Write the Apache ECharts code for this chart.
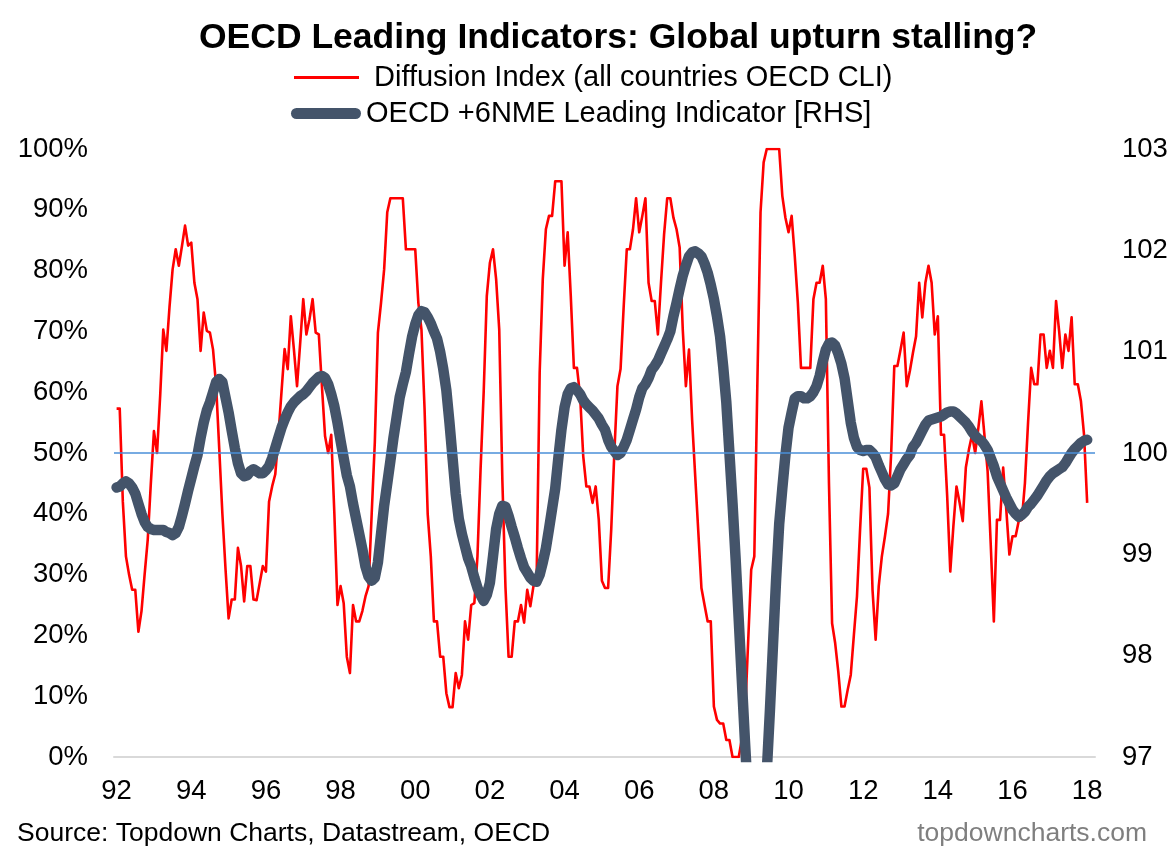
<!DOCTYPE html>
<html>
<head>
<meta charset="utf-8">
<script src="https://cdn.jsdelivr.net/npm/echarts@6/dist/echarts.min.js"></script>
<style>
html,body{margin:0;padding:0;background:#fff;}
#chart{width:1175px;height:861px;}
</style>
</head>
<body>
<div id="chart"></div>
<script>
// ---- Data (monthly, Jan 1992 .. Jan 2018) ----
const startYear = 1992;
const seriesNames = ['Diffusion Index (all countries OECD CLI)', 'OECD +6NME Leading Indicator [RHS]'];
const xTickYears = [1992,1994,1996,1998,2000,2002,2004,2006,2008,2010,2012,2014,2016,2018];
const leftTicks = [0,10,20,30,40,50,60,70,80,90,100];
const rightTicks = [97,98,99,100,101,102,103];
const refLevel = 50;

// Diffusion Index (% of countries with rising CLI), monthly
const diffusion = [
  57.3, 57.3, 42, 33, 30, 27.5, 27.5, 20.6, 24, 30, 35.7, 45,          // 1992
  53.6, 50, 59.4, 70.3, 66.8, 74, 80.2, 83.5, 80.8, 84, 87.4, 84.1,     // 1993
  84.6, 78, 75.3, 66.8, 73.1, 70.1, 69.8, 67, 61, 50.6, 40, 31,         // 1994
  22.8, 25.9, 25.9, 34.4, 31.4, 25.6, 31.4, 31.4, 25.9, 25.8, 28.6, 31.4, // 1995
  30.5, 42, 44.5, 46.5, 52.8, 60, 67.1, 63.8, 72.5, 67, 61, 68,         // 1996
  75.3, 69.5, 72, 75.3, 69.8, 69.5, 61, 52.8, 50, 53, 40, 25,           // 1997
  28.1, 25.3, 16.5, 13.8, 25, 22.3, 22.3, 24, 26.4, 28.1, 40, 51.7,     // 1998
  69.8, 74.7, 80.2, 89.6, 91.9, 91.9, 91.9, 91.9, 91.9, 83.5, 83.5, 83.5, // 1999
  83.5, 74.7, 70.3, 57.2, 40, 33, 22.3, 22.3, 16.5, 16.5, 10.5, 8.2,    // 2000
  8.2, 13.8, 11.3, 13.5, 22.3, 19.3, 25, 25.3, 33, 47.3, 60, 75.8,      // 2001
  81.3, 83.5, 78.6, 70.3, 45.6, 28, 16.5, 16.5, 22.3, 22.3, 25, 22.1,   // 2002
  27.5, 24.8, 28.1, 28.6, 63.2, 78.6, 86.8, 89, 89, 94.7, 94.7, 94.7,   // 2003
  80.8, 86.3, 75.8, 64, 64, 59.4, 49.5, 44.5, 44.5, 41.8, 44.5, 39,     // 2004
  29, 27.8, 27.8, 37.4, 50, 61, 63.8, 74, 83.5, 83.5, 86.8, 91.9,       // 2005
  86.3, 89, 91.9, 78, 75, 75, 69.5, 78, 86, 91.9, 91.9, 88.7,           // 2006
  86.8, 83.8, 70.3, 61, 67, 55.5, 46.2, 37, 27.8, 25, 22.3, 22.3,       // 2007
  8.3, 6.1, 5.5, 5.5, 2.8, 2.8, 0, 0, 0, 3, 6.6, 18.7,                  // 2008
  30.8, 33, 62, 89.6, 97.8, 100, 100, 100, 100, 100, 92.3, 88.7,        // 2009
  86.3, 89, 82.4, 74.7, 64, 64, 64, 64, 75.3, 78, 78, 80.8,             // 2010
  75.3, 45, 22, 18.7, 14, 8.3, 8.3, 11, 13.5, 20, 26.4, 37.4,           // 2011
  47.4, 47.4, 44.3, 27.5, 19.3, 28.1, 33, 36.3, 40, 50, 64.3, 64.3,     // 2012
  67, 69.8, 61, 63.5, 66.5, 69.2, 78, 72.3, 78, 80.8, 78, 69.5,         // 2013
  72.5, 53, 53, 42.9, 30.5, 38, 44.5, 41.8, 38.8, 47.6, 50.6, 53,       // 2014
  50, 54, 58.5, 52.8, 47, 35, 22.3, 39, 39, 47.6, 40.7, 33.3,           // 2015
  36.3, 36.3, 38.8, 39, 45.1, 55, 64, 61.3, 61.3, 69.5, 69.5, 64,       // 2016
  66.8, 64, 75, 70, 64, 69.5, 66.8, 72.3, 61.3, 61.3, 58.5, 53,         // 2017
  41.8                                                                  // 2018
];

// OECD +6NME Leading Indicator (RHS), monthly
const oecdCli = [
  99.66, 99.67, 99.70, 99.72, 99.70, 99.66, 99.60, 99.50, 99.40, 99.32, 99.27, 99.25,          // 1992
  99.24, 99.24, 99.24, 99.24, 99.22, 99.21, 99.19, 99.21, 99.27, 99.38, 99.50, 99.63,          // 1993
  99.75, 99.87, 99.98, 100.15, 100.30, 100.42, 100.50, 100.60, 100.70, 100.73, 100.70, 100.55, // 1994
  100.40, 100.22, 100.05, 99.90, 99.80, 99.77, 99.78, 99.82, 99.84, 99.82, 99.80, 99.80,       // 1995
  99.83, 99.87, 99.95, 100.05, 100.15, 100.25, 100.33, 100.40, 100.46, 100.50, 100.53, 100.56, // 1996
  100.58, 100.61, 100.65, 100.69, 100.72, 100.75, 100.76, 100.74, 100.68, 100.58, 100.46, 100.30, // 1997
  100.12, 99.95, 99.78, 99.67, 99.50, 99.35, 99.20, 99.05, 98.88, 98.78, 98.74, 98.77,         // 1998
  98.92, 99.20, 99.48, 99.70, 99.92, 100.15, 100.35, 100.55, 100.68, 100.80, 100.98, 101.15,   // 1999
  101.27, 101.36, 101.40, 101.39, 101.34, 101.28, 101.20, 101.13, 101.00, 100.83, 100.62, 100.30, // 2000
  99.95, 99.60, 99.35, 99.20, 99.08, 98.96, 98.88, 98.77, 98.67, 98.60, 98.54, 98.60,          // 2001
  98.72, 98.98, 99.25, 99.40, 99.48, 99.47, 99.38, 99.27, 99.17, 99.06, 98.96, 98.87,          // 2002
  98.82, 98.77, 98.74, 98.73, 98.80, 98.92, 99.06, 99.25, 99.45, 99.65, 99.95, 100.23,         // 2003
  100.45, 100.58, 100.64, 100.65, 100.62, 100.58, 100.52, 100.48, 100.45, 100.42, 100.38, 100.34, // 2004
  100.28, 100.23, 100.13, 100.06, 100.02, 99.98, 100.00, 100.06, 100.13, 100.23, 100.33, 100.43, // 2005
  100.55, 100.64, 100.68, 100.74, 100.82, 100.86, 100.91, 100.98, 101.05, 101.12, 101.20, 101.35, // 2006
  101.48, 101.62, 101.75, 101.85, 101.94, 101.98, 101.99, 101.97, 101.94, 101.87, 101.78, 101.66, // 2007
  101.52, 101.35, 101.15, 100.85, 100.50, 100.00, 99.50, 98.95, 98.35, 97.75, 97.15, 96.60,    // 2008
  96.10, 95.80, 95.70, 95.90, 96.30, 96.85, 97.45, 98.10, 98.75, 99.30, 99.65, 99.98,          // 2009
  100.25, 100.40, 100.54, 100.56, 100.56, 100.54, 100.54, 100.56, 100.60, 100.66, 100.76, 100.90, // 2010
  101.02, 101.08, 101.09, 101.06, 100.98, 100.88, 100.74, 100.52, 100.30, 100.15, 100.06, 100.03, // 2011
  100.02, 100.03, 100.03, 100.00, 99.96, 99.88, 99.81, 99.74, 99.69, 99.68, 99.70, 99.77,      // 2012
  99.84, 99.89, 99.94, 99.98, 100.06, 100.10, 100.16, 100.22, 100.28, 100.32, 100.33, 100.34,  // 2013
  100.35, 100.36, 100.38, 100.40, 100.41, 100.41, 100.39, 100.36, 100.33, 100.30, 100.26, 100.21, // 2014
  100.17, 100.14, 100.12, 100.08, 100.03, 99.95, 99.87, 99.77, 99.70, 99.63, 99.56, 99.50,     // 2015
  99.44, 99.40, 99.37, 99.39, 99.42, 99.47, 99.50, 99.54, 99.58, 99.63, 99.68, 99.73,          // 2016
  99.77, 99.80, 99.82, 99.84, 99.86, 99.90, 99.95, 100.00, 100.04, 100.07, 100.10, 100.12,     // 2017
  100.13                                                                                        // 2018
];

// ---- Build chart ----
const FONT = 'Liberation Sans, Arial, Helvetica, sans-serif';
const toPairs = arr => arr.map((v, i) => [startYear + i / 12, v]);

const chart = echarts.init(document.getElementById('chart'), null, {renderer: 'canvas'});
chart.setOption({
  animation: false,
  backgroundColor: '#ffffff',
  title: {
    text: 'OECD Leading Indicators: Global upturn stalling?',
    left: 199, top: 20, padding: 0,
    textStyle: {fontFamily: FONT, fontSize: 35.5, fontWeight: 'bold', color: '#000'}
  },
  legend: [
    {
      data: [{name: seriesNames[0], icon: 'rect'}],
      left: 294, top: 63, padding: 0,
      itemWidth: 65, itemHeight: 3,
      selectedMode: false,
      textStyle: {fontFamily: FONT, fontSize: 29, color: '#000', padding: [0, 0, 0, 10]}
    },
    {
      data: [{name: seriesNames[1], icon: 'path://M5.5,0H64.5A5.5,5.5,0,0,1,64.5,11H5.5A5.5,5.5,0,0,1,5.5,0Z'}],
      left: 291, top: 99, padding: 0,
      itemWidth: 70, itemHeight: 11,
      selectedMode: false,
      textStyle: {fontFamily: FONT, fontSize: 29, color: '#000'}
    }
  ],
  grid: {left: 114, right: 80, top: 149, bottom: 104, containLabel: false},
  xAxis: {
    type: 'value',
    min: 1991.93, max: 2018.21,
    axisLine: {show: true, lineStyle: {color: '#d9d9d9', width: 2}},
    axisTick: {show: false},
    splitLine: {show: false},
    axisLabel: {
      customValues: xTickYears,
      margin: 20,
      fontFamily: FONT, fontSize: 27.5, color: '#000',
      formatter: v => String(Math.round(v)).slice(2)
    }
  },
  yAxis: [
    {
      type: 'value', min: leftTicks[0], max: leftTicks[leftTicks.length - 1], interval: 10,
      position: 'left',
      axisLine: {show: false}, axisTick: {show: false}, splitLine: {show: false},
      axisLabel: {margin: 26, fontFamily: FONT, fontSize: 27.5, color: '#000', formatter: '{value}%'}
    },
    {
      type: 'value', min: rightTicks[0], max: rightTicks[rightTicks.length - 1], interval: 1,
      position: 'right',
      axisLine: {show: false}, axisTick: {show: false}, splitLine: {show: false},
      axisLabel: {margin: 27, fontFamily: FONT, fontSize: 27.5, color: '#000'}
    }
  ],
  series: [
    {
      name: seriesNames[0], type: 'line', yAxisIndex: 0,
      data: toPairs(diffusion),
      showSymbol: false, symbol: 'none', z: 2,
      color: '#ff0000',
      itemStyle: {color: '#ff0000'},
      lineStyle: {color: '#ff0000', width: 2.6, join: 'round'},
      emphasis: {disabled: true}
    },
    {
      name: seriesNames[1], type: 'line', yAxisIndex: 1,
      data: toPairs(oecdCli),
      showSymbol: false, symbol: 'none', z: 3, clip: true,
      color: '#44546a',
      itemStyle: {color: '#44546a'},
      lineStyle: {color: '#44546a', width: 10.5, cap: 'round', join: 'round'},
      emphasis: {disabled: true}
    },
    {
      name: 'ref', type: 'line', yAxisIndex: 0, data: [], z: 4,
      markLine: {
        silent: true, symbol: 'none', animation: false,
        label: {show: false},
        lineStyle: {color: '#4a8fd8', width: 1.6, type: 'solid'},
        emphasis: {disabled: true},
        data: [{yAxis: refLevel}]
      }
    }
  ],
  graphic: [
    {
      type: 'text', left: 17, top: 820,
      style: {text: 'Source: Topdown Charts, Datastream, OECD', font: '26.5px ' + FONT, fill: '#000'}
    },
    {
      type: 'text', right: 28, top: 820,
      style: {text: 'topdowncharts.com', font: '26.5px ' + FONT, fill: '#7f7f7f'}
    }
  ]
});
</script>
</body>
</html>
